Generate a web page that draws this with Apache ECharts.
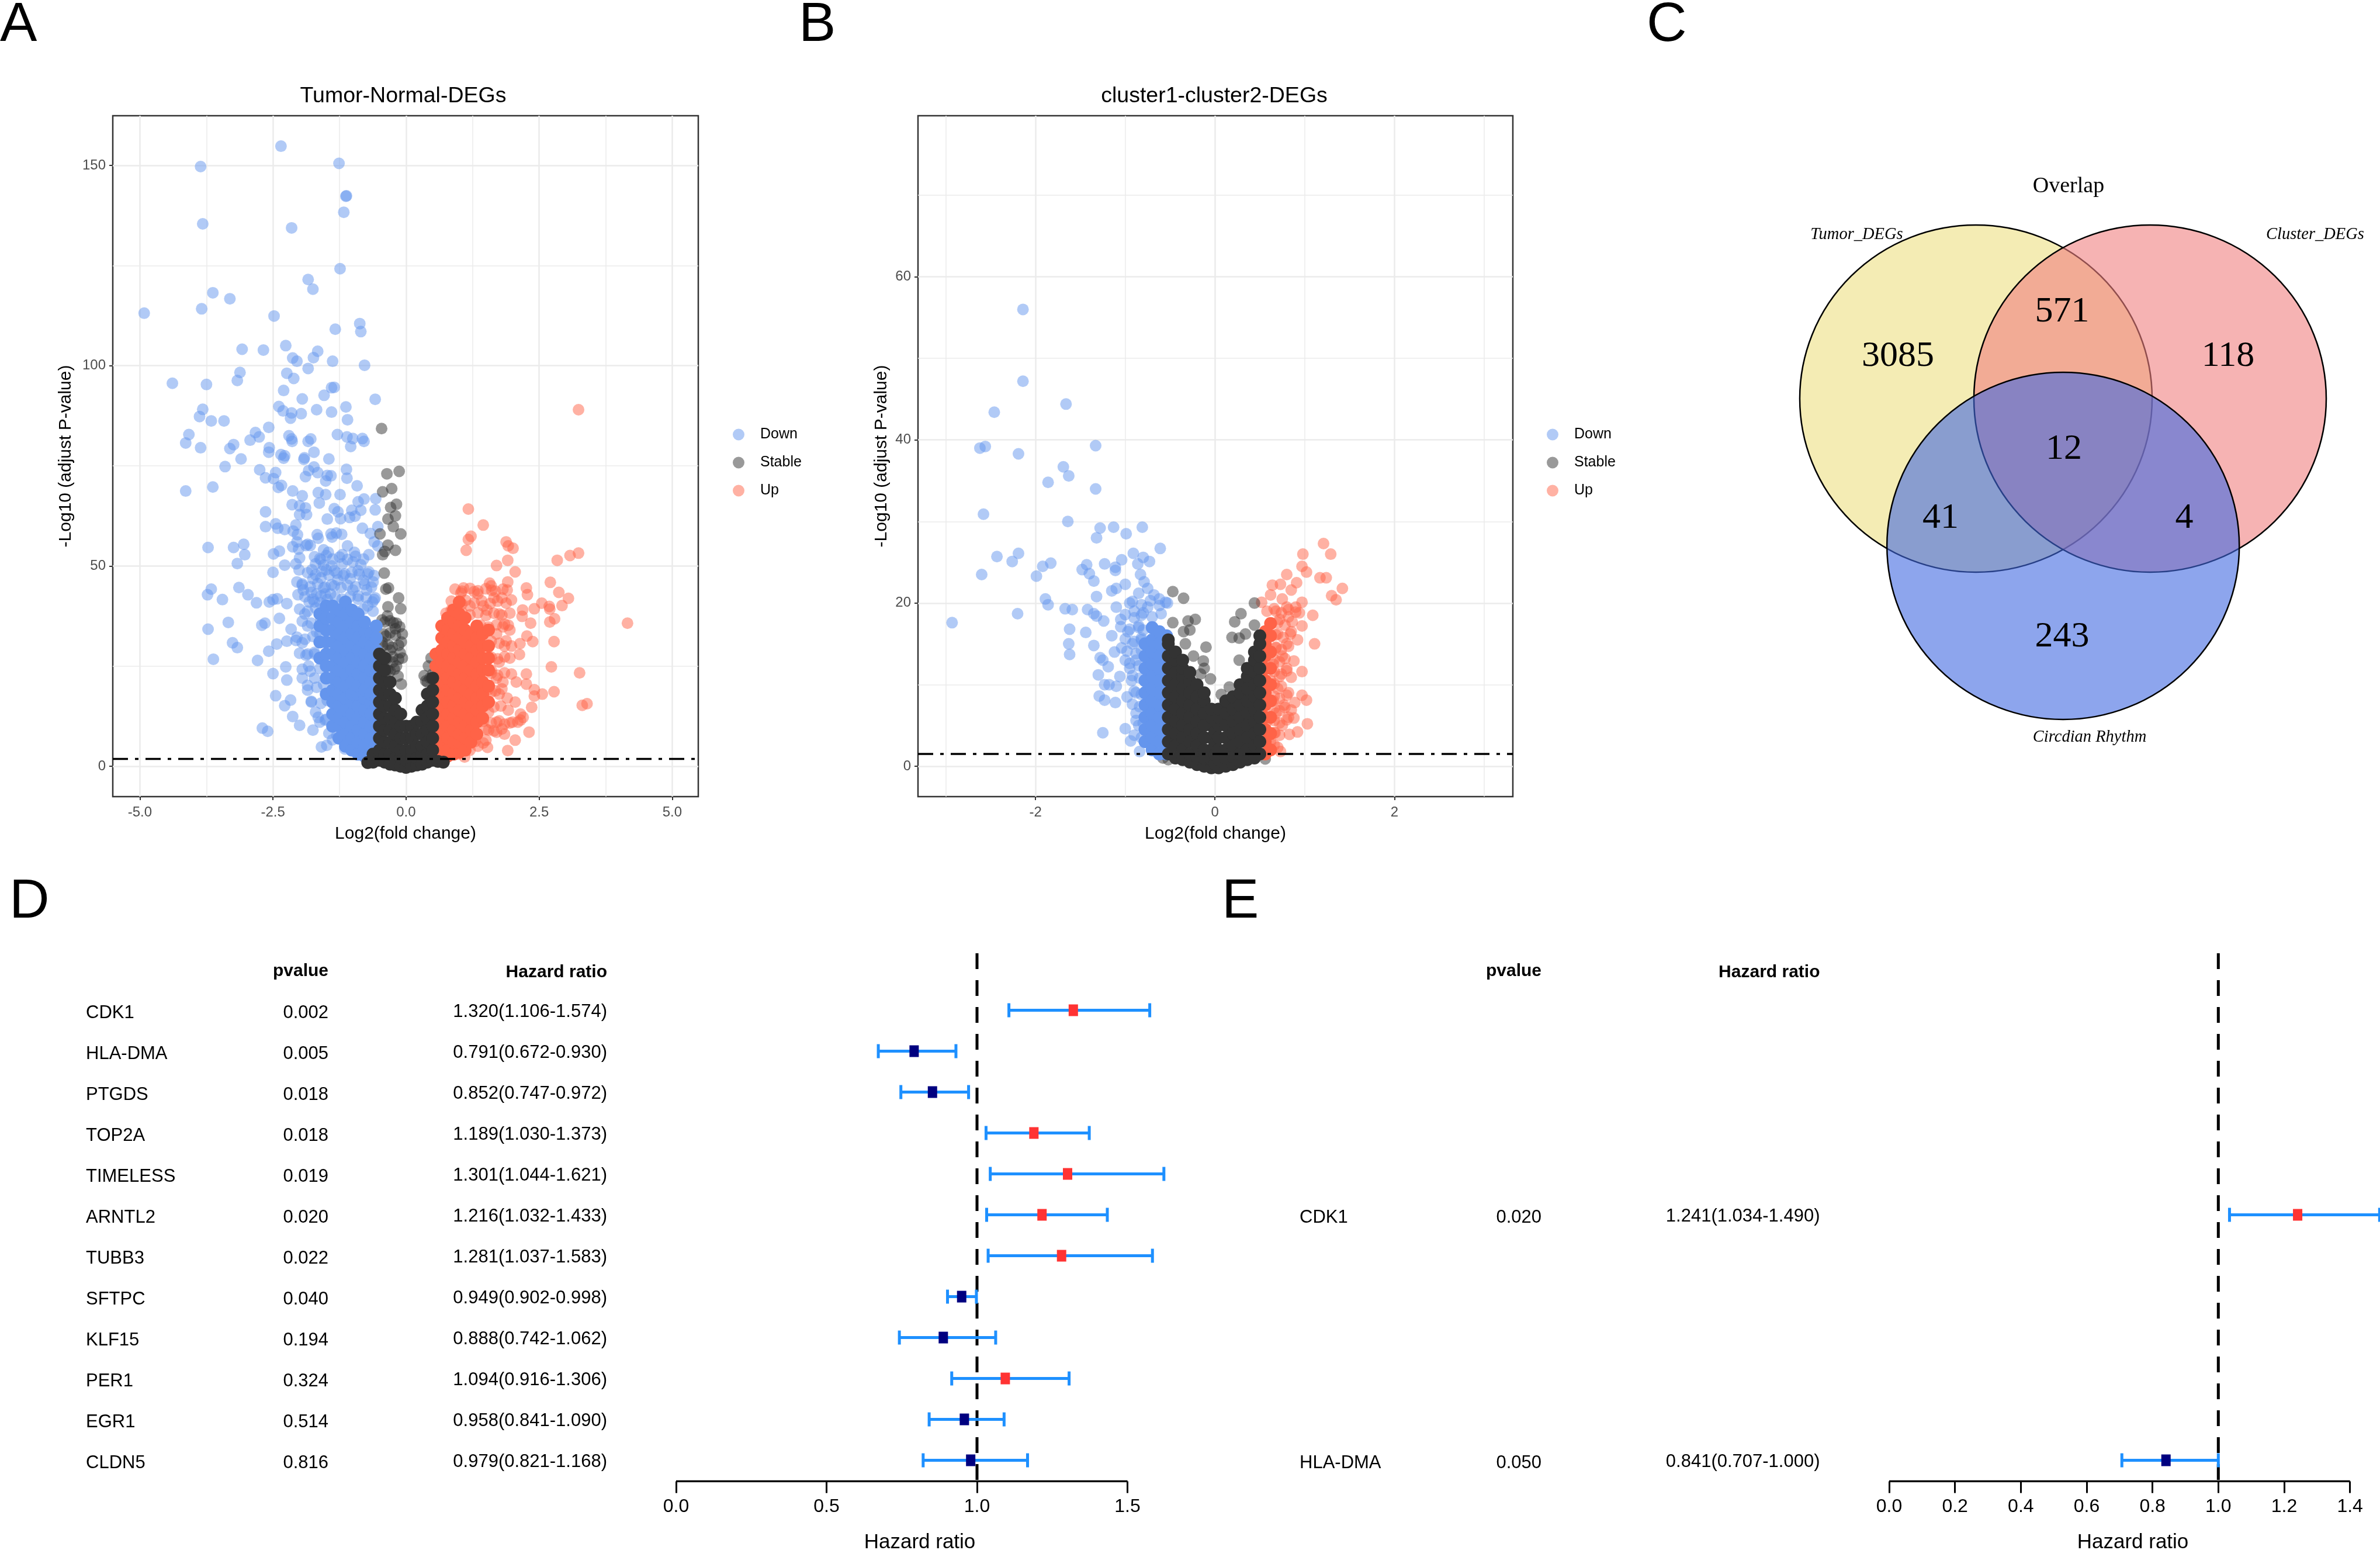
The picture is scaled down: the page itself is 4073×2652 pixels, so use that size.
<!DOCTYPE html>
<html><head><meta charset="utf-8"><style>html,body{margin:0;padding:0;background:#fff}#c{width:4073px;height:2652px}</style>
<script src="https://cdn.jsdelivr.net/npm/echarts@6/dist/echarts.min.js"></script></head><body><div id="c"></div>
<script>
const legendNames=['Down','Stable','Up'];
const xTicksA=[-5,-2.5,0,2.5,5], yTicksA=[0,50,100,150];
const xMinorA=[-3.75,-1.25,1.25,3.75], yMinorA=[25,75,125];
const xTicksB=[-2,0,2], yTicksB=[0,20,40,60];
const xMinorB=[-3,-1,1,3], yMinorB=[10,30,50,70];
const cutoffA=1.8, cutoffB=1.5;

const downA=[[-2.35,154.8],[-3.86,149.7],[-1.26,150.5],[-1.13,142.3],[-1.12,142.4],[-1.17,138.3],[-3.82,135.4],[-2.15,134.4],[-1.24,124.2],[-1.84,121.5],[-1.75,119.1],[-3.63,118.2],[-3.31,116.7],[-3.84,114.2],[-4.92,113.1],[-2.48,112.4],[-.87,110.5],[-1.33,109.1],[-.85,108.5],[-2.26,105],[-3.08,104.1],[-2.68,103.9],[-1.66,103.6],[-1.74,102],[-2.13,101.9],[-2.05,101.1],[-1.38,101.1],[-.78,100.1],[-1.84,99.3],[-3.12,98.3],[-2.24,98.1],[-2.11,96.8],[-3.17,96.3],[-4.39,95.6],[-3.75,95.3],[-1.4,94.5],[-1.35,94.6],[-2.3,93.8],[-1.54,92.6],[-.58,91.6],[-1.95,91.7],[-2.39,89.8],[-2.31,88.7],[-1.13,89.7],[-3.82,89.1],[-1.68,89],[-1.4,88.4],[-2.15,88.2],[-1.97,88],[-3.88,87.3],[-2.17,86.9],[-1.1,86.5],[-3.66,86.2],[-3.42,86.2],[-2.58,84.6],[-2.83,83.3],[-4.08,82.8],[-2.76,82.2],[-2.93,81.4],[-1.29,82.8],[-1.11,82.2],[-1,81.8],[-.82,81.8],[-.79,81.1],[-2.2,82.5],[-2.15,81.7],[-2.14,81.1],[-1.79,81.7],[-1.84,81.1],[-4.14,80.7],[-3.24,80.3],[-3.31,79.3],[-3.86,79.5],[-1.04,79.8],[-2.57,79.5],[-2.58,78.4],[-1.73,78.4],[-2.35,77.8],[-2.28,77.5],[-2.3,76.9],[-1.91,77],[-1.92,76.6],[-1.45,76.7],[-3.1,76.7],[-3.4,74.8],[-2.75,74],[-1.73,74.7],[-1.83,73.8],[-1.12,74.1],[-1.66,73.3],[-2.45,73.3],[-2.64,72],[-2.49,71.8],[-1.89,72.3],[-1.48,72.6],[-1.41,72.5],[-1.51,71.2],[-1.11,71.9],[-2.34,70.1],[-2.4,69.6],[-.92,70],[-3.63,69.7],[-4.14,68.7],[-2.13,68.7],[-1.65,68.3],[-1.51,67.8],[-1.24,67.8],[-1.95,67.5],[-.79,66.7],[-.57,66.8],[-.9,66],[-1.63,65.7],[-2.14,65.3],[-2,65],[-1.89,64.5],[-1.35,64.3],[-1.02,63.9],[-.85,63.9],[-.58,64],[-2.64,63.5],[-2,62.8],[-1.87,62.8],[-1.28,63.5],[-1.48,61.7],[-1.23,61.8],[-1.06,62.1],[-.96,62.4],[-2.64,59.8],[-2.45,60.5],[-2.07,60.2],[-2.28,59.1],[-2.41,59.4],[-2.12,58.7],[-.82,59.4],[-.53,59.8],[-2.04,57.8],[-1.67,57.8],[-1.31,58.2],[-1.41,58],[-1.21,57.9],[-.67,58.1],[-1.65,56.9],[-1.39,57.2],[-1.1,55],[-.6,56],[-.53,55],[-2.05,56],[-1.85,55.4],[-1.8,55.1],[-2.02,54.2],[-1.55,54],[-1.46,53.4],[-1.2,52.8],[-.97,53.4],[-.7,52.8],[-3.72,54.6],[-3.24,54.6],[-3.05,55.4],[-3.03,52.8],[-3.17,50.6],[-2.49,53],[-2.38,53.7],[-2.13,54.8],[-1.88,55.1],[-2,52],[-1.6,51.5],[-1.7,50.5],[-1.55,50.2],[-1.4,50],[-1.2,50.5],[-1,51],[-.85,50.3],[-2.28,50.2],[-2.07,50.5],[-2.01,49],[-1.77,49],[-1.5,49],[-1.35,48.8],[-1.15,48],[-.9,48.8],[-.72,48],[-2.5,48.4],[-2.05,46],[-1.95,45.5],[-1.75,46.8],[-1.6,47],[-1.28,46.5],[-1.05,46.8],[-.8,46.4],[-.62,46],[-3.14,44.6],[-3.66,44.2],[-3.73,42.8],[-3.45,41.6],[-2.97,42.8],[-2.81,40.8],[-2.57,41],[-2.5,41.6],[-2.42,41.8],[-2.24,40.6],[-2.03,42.8],[-1.93,44],[-1.78,43.4],[-1.68,43],[-1.55,44.5],[-1.42,43],[-1,44],[-.74,44],[-1.82,41],[-1.72,41],[-1.62,40.8],[-.63,41],[-3.34,35.9],[-3.72,34.2],[-3.26,30.8],[-3.17,29.6],[-3.62,26.7],[-2.79,26.4],[-2.58,28.7],[-2.43,30.5],[-2.24,31.2],[-2.65,35.7],[-2.71,35.2],[-2.38,36.9],[-2.16,34.2],[-2.07,31.4],[-1.95,30.8],[-1.85,35],[-1.9,38],[-2.5,23.1],[-2.26,24.8],[-2.24,21.5],[-2.45,17.6],[-2.17,16.5],[-2.28,15.1],[-2.13,12.4],[-2,10.2],[-2.7,9.5],[-2.6,8.7],[-1.75,9],[-1.59,4.8],[-1.49,5.2],[-1.38,6.6],[-1.15,4.3],[-1.95,22],[-1.85,19],[-1.78,16],[-1.7,13.5],[-1.83,25],[-1.72,22],[-1.62,11],[-1.52,11.5],[-1.72,28],[-1.85,28],[-1.62,33],[-1.52,43],[-1.35,45],[-.9,42.5],[-.72,40],[-.58,42]];
const downFillA=[[-1.72,52.3],[-1.62,51.8],[-1.5,52.6],[-1.38,51.7],[-1.25,52.2],[-1.1,51.6],[-.95,52.4],[-.8,51.7],[-1.85,48.3],[-1.7,47.8],[-1.58,48.6],[-1.45,47.7],[-1.3,48.2],[-1.18,47.6],[-1.02,48.4],[-.88,47.9],[-.7,48.5],[-.6,47.6],[-1.95,45.2],[-1.8,44.8],[-1.66,45.6],[-1.52,44.7],[-1.4,45.3],[-1.22,44.6],[-1.1,45.2],[-.95,44.8],[-.78,45.4],[-.65,44.7],[-1.9,42.3],[-1.75,41.7],[-1.6,42.5],[-1.48,41.6],[-1.33,42.2],[-1.2,41.7],[-1.05,42.4],[-.9,41.7],[-.75,42.1],[-.6,41.6],[-2,39.2],[-1.85,38.7],[-1.7,39.5],[-1.55,38.6],[-1.4,39.1],[-1.28,38.6],[-1.12,39.4],[-.95,38.7],[-.8,39.2],[-.62,38.7],[-1.95,36.2],[-1.78,35.7],[-1.6,36.4],[-1.45,35.6],[-1.3,36.2],[-1.68,33.5],[-2.05,32.2],[-1.9,31.7],[-1.75,32.4],[-2,28.2],[-1.88,27.7],[-1.72,28.4],[-1.95,24.2],[-1.8,23.7],[-1.62,24.4],[-1.85,20.2],[-1.68,19.7],[-1.55,20.4],[-1.78,16.2],[-1.6,15.7],[-1.48,16.4],[-1.65,12.2],[-1.5,11.7],[-1.45,8.2],[-1.3,7.7]];
const downCoreA=[[-1.62,[27,31,35,38]],[-1.5,[18,22,25,28,31,34,37,40]],[-1.38,[10,13,16,19,22,25,28,31,34,37,40]],[-1.26,[7,10,12,15,18,21,24,27,30,33,36,39]],[-1.14,[5,8,11,14,17,20,23,26,29,32,35,38,41]],[-1.02,[4,7,10,13,16,18,21,24,27,30,33,36,39]],[-.9,[3,6,9,12,15,18,20,23,26,29,32,35,38]],[-.78,[2.5,5,8,11,14,17,19,22,25,28,31,34,36]],[-.66,[2,4,7,10,13,16,18,21,24,27,30,33]],[-.56,[2,4,6,9,12,15,17,20,23,26,29,32,35]]];
const stableA=[[-.46,84.3],[-.36,73],[-.13,73.6],[-.27,69.3],[-.44,68.5],[-.18,65.4],[-.29,64.6],[-.2,62.5],[-.34,61.7],[-.24,59.8],[-.1,58],[-.49,58],[-.34,55.2],[-.2,53.9],[-.4,53.6],[-.44,52.8],[-.41,48.2],[-.38,44.2],[-.33,44.5],[-.14,42],[-.34,39.8],[-.1,39.3],[-.35,37.5],[-.45,36.5],[-.24,35.8],[-.07,33],[-.09,31],[-.38,32.5],[-.11,28.3],[-.07,27],[-.45,31],[-.2,34.3],[-.12,34.8],[-.3,29],[-.25,26],[-.18,25],[-.42,27],[.47,27],[.42,25],[.34,22.6],[-.09,20.5],[.37,21.3],[-.15,22.5],[-.34,24],[-.48,24],[-.4,24.4],[-.3,23.7],[-.22,24.2],[-.46,27.2],[-.36,26.8],[-.25,27.3],[-.14,26.7],[-.44,30],[-.34,30.4],[-.26,29.7],[-.14,30.2],[-.42,33],[-.3,33.3],[-.2,32.7],[-.4,36],[-.3,36.3],[-.18,35.7],[.45,22],[.4,21],[.5,23]];
const stableCoreA=[[-.72,[.9]],[-.62,[1,3]],[-.5,[1.5,4,7,10,13,16,19,22,25,28]],[-.4,[1,3,6,9,12,15,18,21,24,27]],[-.3,[.5,3,6,9,12,15,18,21]],[-.2,[.3,2,5,8,11,14,17]],[-.1,[0,2,4,7,10,13]],[0,[-.3,1.5,4,7,10]],[.1,[0,2,4,7,10]],[.2,[.3,2,5,8,11]],[.3,[.5,3,5,8,11,14]],[.4,[1,3,6,9,12,15,18]],[.5,[1.5,4,7,10,13,16,19,22]],[.6,[1.2]],[.7,[1]]];
const upA=[[3.24,89],[1.17,64.2],[1.45,60.2],[1.22,57.4],[1.17,56.6],[1.13,53.9],[1.88,56],[1.92,55],[2.01,54.4],[3.24,53.2],[3.08,52.6],[2.84,51.4],[1.7,50.1],[1.91,51.4],[2.05,48.5],[1.57,45.7],[1.91,46],[2.71,45.9],[1.08,44.5],[1.03,43.2],[1.28,43.6],[1.61,43.9],[2.26,44.5],[2.28,42.8],[2.87,43.4],[3.05,41.9],[2.93,40.1],[2.55,40.7],[2.7,39.2],[2.69,39.9],[4.16,35.7],[2.79,36.8],[2.7,36],[2.34,35.7],[2.41,39.3],[2.19,39],[2.18,37.4],[2.78,31.1],[2.14,30.6],[2.27,32.5],[2.38,31.1],[2.13,27.9],[2.73,24.8],[3.26,23.3],[2.26,23],[2.26,20.5],[2.41,19.1],[2.56,18],[2.78,18.6],[2.41,17.5],[2.36,14.7],[3.31,15.2],[3.4,15.6],[2.31,8.5],[2.05,6.5],[1.91,3.9],[1.53,4.7],[1.6,45],[1.65,42],[1.8,42],[1.9,44],[1.98,41.5],[1.75,38],[1.85,35.5],[1.95,34],[1.7,33],[1.85,30],[1.98,30],[1.95,27],[1.75,26],[1.6,24],[1.7,22],[1.82,21],[1.98,23],[2.07,21],[1.6,18.5],[1.75,18],[1.9,17],[2.05,16],[1.78,15],[1.92,14],[2.15,13],[1.55,13.5],[1.7,11],[1.85,10.5],[2,11],[2.15,11.5],[2.2,12.2],[1.55,9],[1.7,8.5],[1.85,8],[1.5,6.5],[1.35,5],[1.2,4],[.98,3],[1.1,2.3],[1.52,39],[1.35,43],[1.45,40],[1.2,40],[1.05,40.5],[.95,38],[.85,39]];
const upFillA=[[.92,44.2],[1.05,43.7],[1.2,44.4],[1.35,43.8],[1.5,44.3],[1.68,43.7],[1.82,44.2],[.85,41.2],[1,40.7],[1.12,41.4],[1.28,40.8],[1.42,41.3],[1.58,40.6],[1.72,41.2],[1.88,40.7],[.75,38.2],[.9,37.7],[1.05,38.4],[1.2,37.8],[1.35,38.3],[1.5,37.6],[1.65,38.2],[1.8,37.7],[1.95,38.2],[1.4,35.2],[1.55,34.7],[1.7,35.3],[1.82,34.8],[1.92,35.2],[1.6,31.2],[1.75,30.7],[1.88,31.3],[1.6,27.2],[1.72,26.8],[1.85,27.3],[1.6,23.2],[1.72,22.7],[1.85,23.3],[1.55,19.2],[1.68,18.8],[1.8,19.3],[1.5,15.2],[1.65,14.8],[1.45,11.2],[1.6,10.8],[1.75,11.3],[1.95,10.8],[2.1,11],[1.5,9.2],[1.65,8.8],[1.8,9.3],[1.3,6.2],[1.45,5.8]];
const upCoreA=[[.56,[2,4,7,10,13,16,19,22,25,28]],[.67,[2,5,8,11,14,17,20,23,26,29,32,35]],[.78,[2.5,4,7,10,13,16,19,22,25,28,31,34,37]],[.89,[3,6,9,12,15,18,21,24,27,30,33,36,39]],[1,[3.5,6,8,11,14,17,20,23,26,29,32,35,38,41]],[1.11,[4,7,10,13,16,19,22,25,28,31,34,37]],[1.22,[6,9,12,15,18,21,24,27,30,33]],[1.33,[8,11,14,17,20,23,26,29,32,35]],[1.44,[12,15,18,21,24,27,30,33]],[1.55,[16,20,24,27,30,34]]];

const downB=[[-2.14,56],[-2.14,47.2],[-1.66,44.4],[-2.46,43.4],[-2.62,39],[-2.56,39.2],[-1.33,39.3],[-2.19,38.3],[-1.69,36.7],[-1.63,35.6],[-1.86,34.8],[-1.33,34],[-2.58,30.9],[-1.64,30],[-1.13,29.3],[-1.28,29.2],[-.81,29.3],[-.99,28.5],[-1.32,28],[-.61,26.7],[-.91,26.1],[-2.19,26.1],[-2.43,25.7],[-.8,25.6],[-.73,25.1],[-.86,24.8],[-2.26,25.1],[-1.83,24.9],[-1.92,24.5],[-1.04,25.3],[-1.23,24.8],[-1.11,24.4],[-1.11,24],[-1.43,24.7],[-1.48,24.1],[-1.4,23.6],[-2.6,23.5],[-1.99,23.3],[-.83,23.5],[-1.35,22.7],[-.79,22.6],[-1,22.3],[-1.1,21.8],[-1.15,21.5],[-.75,21.8],[-.85,21.2],[-1.32,20.8],[-1.89,20.5],[-1.86,19.8],[-1.67,19.3],[-1.59,19.2],[-1.42,19.2],[-.95,20],[-.68,21],[-.62,20.5],[-.53,20],[-2.2,18.7],[-2.93,17.6],[-1.35,18.7],[-1.32,18.4],[-1.24,17.8],[-1.62,16.8],[-1.44,16.4],[-1.63,15],[-1.35,14.8],[-1.62,13.7],[-1.28,13.3],[-1.25,13],[-1.19,12.2],[-1.3,11.2],[-1.23,10],[-1.29,8.6],[-1.23,8.1],[-1.11,7.8],[-1.25,4.1],[-1,4.6],[-.9,3.8],[-.94,3.1],[-.84,1.8],[-1.1,19.5],[-1.05,18],[-.97,16.5],[-.9,19],[-.85,17],[-.92,15],[-1.04,14.5],[-1,13],[-.95,12],[-.88,13],[-1.15,16],[-1.12,14],[-1.06,11],[-.93,10.5],[-.98,8.5],[-.88,9],[-.88,6.5],[-.85,5],[-.82,15.5],[-.82,18.5],[-.75,19.5],[-1.18,10],[-1.1,9.8]];
const downFillB=[[-.92,20.2],[-.82,19.8],[-.72,20.3],[-.62,19.7],[-.55,20.1],[-1,18.6],[-.9,18.2],[-.8,18.8],[-.7,18.3],[-.6,18.7],[-1.05,17.1],[-.95,16.8],[-.85,17.2],[-.8,16.7],[-1,15.6],[-.9,15.3],[-.82,15.7],[-.98,14.1],[-.88,13.8],[-.82,14.2],[-.95,12.6],[-.85,12.3],[-.92,11.1],[-.84,10.8],[-.9,9.2],[-.82,8.8],[-.92,7.6],[-.84,7.3],[-.88,5.6],[-.8,5.3],[-.82,3.5]];
const downCoreB=[[-.78,[3,4.5,6,7.5,9,10.5,12,13.5,15]],[-.7,[2,3.5,5,6.5,8,9.5,11,12.5,14,15.5,17]],[-.62,[1.5,3,4.5,6,7.5,9,10.5,12,13.5,15,16.5]],[-.54,[1.5,2.5,4,5.5,7,8.5,10,11.5,13,14.5,16]]];
const stableB=[[-.47,21.4],[-.35,20.6],[-.22,18],[-.3,17.8],[-.47,17.6],[-.28,16.7],[-.35,16.5],[-.1,14.6],[.44,20],[.29,18.7],[.22,17.7],[.19,15.8],[.27,15.7],[.34,16.2],[.44,17.3],[-.33,15],[-.24,13.5],[-.13,12.9],[-.12,12],[-.16,11.3],[-.05,10.7],[.07,8.8],[.27,13],[.16,9.7],[-.58,1],[-.52,.8],[.56,.9]];
const stableCoreB=[[-.52,[1.5,3,4.5,6,7.5,9,10.5,12,13.5,15,15.5]],[-.44,[1,2.5,4,5.5,7,8.5,10,11.5,13,14]],[-.36,[.8,2,3.5,5,6.5,8,9.5,11,12,13]],[-.28,[.5,1.5,3,4.5,6,7.5,9,10.5,11.5]],[-.2,[.2,1.2,2.5,4,5.5,7,8.5,10]],[-.12,[0,1,2,3.5,5,6.5,8,9]],[-.04,[-.2,.8,2,3.5,5,6,7]],[0,[.3,1.4,2.7,4.2]],[.04,[-.2,.8,2,3.5,5,6,7]],[.12,[0,1,2,3.5,5,6.5,8]],[.2,[.2,1.2,2.5,4,5.5,7,8.5]],[.28,[.5,1.5,3,4.5,6,7.5,9,10]],[.36,[.8,2,3.5,5,6.5,8,9.5,11,12]],[.44,[1,2.5,4,5.5,7,8.5,10,11.5,13,14]],[.5,[1.5,3,4.5,6,7.5,9,10.5,12,13.5,15,16]]];
const upB=[[1.21,27.3],[.98,26],[1.29,26],[.97,24.5],[1.02,23.8],[.8,23.5],[1.17,23.1],[1.24,23.1],[1.42,21.8],[.64,22.2],[.73,22.3],[.91,22.5],[.85,21.6],[1.3,20.9],[1.35,20.4],[.52,20.1],[.97,20.1],[.94,18.8],[1.09,18.5],[1.11,15],[.97,17.2],[.85,16.5],[.7,16.2],[.88,12.9],[.97,11.6],[.85,10.9],[.7,9.5],[.97,8.7],[1.02,8.1],[.89,7.8],[1.03,5.2],[.88,5.9],[.92,4.2],[.83,3.9],[.73,1.8],[.67,4.1],[.58,5.5],[.62,21],[.75,20.5],[.8,19.5],[.68,19],[.9,19.5],[.72,18],[.82,18.3],[.62,17.5],[.92,15.5],[.8,15],[.68,14.5],[.75,13.5],[.65,12.5],[.8,12],[.72,11],[.62,10.5],[.82,9],[.65,8],[.77,7.5],[.68,6.5],[.82,6],[.75,5],[.62,3]];
const upFillB=[[.58,19],[.66,19.3],[.74,18.8],[.82,19.2],[.9,18.9],[.7,17.6],[.78,17.3],[.86,17.7],[.68,16.1],[.76,15.8],[.84,16.2],[.68,14.6],[.74,14.3],[.82,14.7],[.66,13.1],[.72,12.8],[.78,13.2],[.66,11.6],[.74,11.3],[.8,11.7],[.66,10.1],[.74,9.8],[.66,8.6],[.72,8.3],[.8,8.7],[.66,7.1],[.72,6.8],[.78,7.2],[.85,6.9],[.66,5.6],[.72,5.3],[.8,5.7],[.66,4.1],[.72,3.8],[.66,2.6],[.7,2.3]];
const upCoreB=[[.56,[1.5,3,4.5,6,7.5,9,10.5,12,13.5,15,16.5]],[.62,[2,4,6,8,10,12,14,16,17.5]]];

const geneD=['CDK1','HLA-DMA','PTGDS','TOP2A','TIMELESS','ARNTL2','TUBB3','SFTPC','KLF15','PER1','EGR1','CLDN5'];
const pD=['0.002','0.005','0.018','0.018','0.019','0.020','0.022','0.040','0.194','0.324','0.514','0.816'];
const hrD=[1.320,0.791,0.852,1.189,1.301,1.216,1.281,0.949,0.888,1.094,0.958,0.979];
const loD=[1.106,0.672,0.747,1.030,1.044,1.032,1.037,0.902,0.742,0.916,0.841,0.821];
const hiD=[1.574,0.930,0.972,1.373,1.621,1.433,1.583,0.998,1.062,1.306,1.090,1.168];
const geneE=['CDK1','HLA-DMA'], rowE=[5,11], pE=['0.020','0.050'];
const hrE=[1.241,0.841], loE=[1.034,0.707], hiE=[1.490,1.000];
const ticksD=[0,0.5,1,1.5], ticksE=[0,0.2,0.4,0.6,0.8,1,1.2,1.4];

const vennNames=['Tumor_DEGs','Cluster_DEGs','Circdian Rhythm'];
const vennCounts={y:3085,yp:571,p:118,ypb:12,yb:41,pb:4,b:243};

const F='"Liberation Sans",Arial,sans-serif', S='"Liberation Serif","Times New Roman",serif';
const flat=c=>c.flatMap(([x,ys])=>ys.map(y=>[x,y]));
const hr3=v=>v.toFixed(3);
const colors={Down:'#6495ED',Stable:'#333333',Up:'#FF6347'};

const grids=[],xAxes=[],yAxes=[],series=[];
function volcano(box,xr,yr,xT,yT,xM,yM,fmt,cut,sets,nameGapY){
  const i=grids.length;
  grids.push({left:box[0],top:box[1],width:box[2]-box[0],height:box[3]-box[1],show:true,borderColor:'#333',borderWidth:2.5,backgroundColor:'#fff'});
  xAxes.push({gridIndex:i,type:'value',min:xr[0],max:xr[1],name:'Log2(fold change)',nameLocation:'middle',nameGap:49,nameTextStyle:{fontFamily:F,fontSize:30,color:'#000'},
    splitLine:{show:false},axisLine:{show:false,onZero:false},axisTick:{show:true,length:6,customValues:xT,lineStyle:{color:'#333',width:2}},
    axisLabel:{customValues:xT,fontFamily:F,fontSize:24,color:'#4D4D4D',margin:15,formatter:fmt}});
  yAxes.push({gridIndex:i,type:'value',min:yr[0],max:yr[1],name:'-Log10 (adjust P-value)',nameLocation:'middle',nameGap:nameGapY,nameTextStyle:{fontFamily:F,fontSize:30,color:'#000'},
    splitLine:{show:false},axisLine:{show:false,onZero:false},axisTick:{show:true,length:6,customValues:yT,lineStyle:{color:'#333',width:2}},
    axisLabel:{customValues:yT,fontFamily:F,fontSize:24,color:'#4D4D4D',margin:12,padding:[5,0,0,0]}});
  const base={xAxisIndex:i,yAxisIndex:i};
  const gl=(vals,key,w)=>vals.map(v=>({[key]:v,lineStyle:{color:'#EBEBEB',width:w,type:'solid'}}));
  series.push({...base,type:'scatter',name:'gridlines',data:[],silent:true,z:1,
    markLine:{silent:true,z:1,symbol:'none',animation:false,label:{show:false},
      data:[...gl(xT,'xAxis',2.5),...gl(yT,'yAxis',2.5),...gl(xM,'xAxis',1.5),...gl(yM,'yAxis',1.5)]}});
  const sc=(name,data,op,size)=>({...base,type:'scatter',name,data,symbol:'circle',symbolSize:size,z:3,silent:true,itemStyle:{color:colors[name],opacity:op}});
  series.push(sc('Down',sets.down,.5,20),sc('Up',sets.up,.5,20),sc('Stable',sets.stable,.5,20),
    sc('Down',flat(sets.downCore),1,22),sc('Up',flat(sets.upCore),1,22),sc('Stable',flat(sets.stableCore),1,22));
  series.push({...base,type:'line',name:'cutoff',data:[[xr[0],cut],[xr[1],cut]],symbol:'none',silent:true,z:5,lineStyle:{color:'#000',width:3.5,type:[26,12,6,12]}});
}
volcano([193,198,1195,1363],[-5.51,5.49],[-7.6,162.4],xTicksA,yTicksA,xMinorA,yMinorA,v=>v.toFixed(1),cutoffA,{down:[...downA,...downFillA],downCore:downCoreA,stable:stableA,stableCore:stableCoreA,up:[...upA,...upFillA],upCore:upCoreA},65);
volcano([1571,198,2589,1363],[-3.31,3.32],[-3.73,79.75],xTicksB,yTicksB,xMinorB,yMinorB,v=>String(v),cutoffB,{down:[...downB,...downFillB],downCore:downCoreB,stable:stableB,stableCore:stableCoreB,up:[...upB,...upFillB],upCore:upCoreB},47);

function forest(left,width,xmax,ticks,rows,hr,lo,hi,axisMax){
  const i=grids.length, yMin=-1.393, yMax=11.514;
  grids.push({left,top:1631,width,height:903.5});
  xAxes.push({gridIndex:i,type:'value',min:0,max:xmax,splitLine:{show:false},axisLine:{show:false,onZero:false},
    axisTick:{show:true,length:20,customValues:ticks,lineStyle:{color:'#000',width:3}},
    axisLabel:{customValues:ticks,fontFamily:F,fontSize:32,color:'#000',margin:28,formatter:v=>v.toFixed(1)}});
  yAxes.push({gridIndex:i,type:'value',min:yMin,max:yMax,inverse:true,show:false,splitLine:{show:false}});
  const base={xAxisIndex:i,yAxisIndex:i};
  series.push({...base,type:'line',name:'axis',data:[[0,yMax],[axisMax,yMax]],symbol:'none',silent:true,z:4,lineStyle:{color:'#000',width:3.5}});
  series.push({...base,type:'line',name:'HR = 1',data:[[1,yMin],[1,yMax]],symbol:'none',silent:true,z:3,lineStyle:{color:'#000',width:5,type:[27,19]}});
  series.push({...base,type:'custom',name:'CI',silent:true,z:5,clip:false,data:rows.map((r,k)=>[lo[k],hi[k],r]),encode:{x:[0,1],y:2},
    renderItem:(p,api)=>{const a=api.coord([api.value(0),api.value(2)]),b=api.coord([api.value(1),api.value(2)]);const st={stroke:'#1E90FF',lineWidth:5};
      return {type:'group',children:[
        {type:'line',shape:{x1:a[0],y1:a[1],x2:b[0],y2:b[1]},style:st},
        {type:'line',shape:{x1:a[0],y1:a[1]-12,x2:a[0],y2:a[1]+12},style:st},
        {type:'line',shape:{x1:b[0],y1:b[1]-12,x2:b[0],y2:b[1]+12},style:st}]};}});
  series.push({...base,type:'scatter',name:'HR',silent:true,z:6,clip:false,symbol:'rect',symbolSize:[16,20],
    data:rows.map((r,k)=>({value:[hr[k],r],itemStyle:{color:hr[k]>1?'#FF3333':'#000080',opacity:1}}))});
}
forest(1157,927,1.8,ticksD,geneD.map((_,k)=>k),hrD,loD,hiD,1.5);
forest(3233,840,1.4912,ticksE,rowE,hrE,loE,hiE,1.4);

const vi=grids.length;
grids.push({left:3000,top:300,width:1073,height:1000});
xAxes.push({gridIndex:vi,type:'value',min:0,max:1073,show:false,splitLine:{show:false}});
yAxes.push({gridIndex:vi,type:'value',min:0,max:1000,inverse:true,show:false,splitLine:{show:false}});
const vennCentres=[[381.5,382],[679.5,382],[530.7,634]];
const vennFill=['rgba(238,226,140,0.65)','rgba(240,128,128,0.6)','rgba(65,105,225,0.6)'];
vennNames.forEach((n,k)=>series.push({xAxisIndex:vi,yAxisIndex:vi,type:'scatter',name:n,silent:true,symbol:'circle',symbolSize:[603,594],z:2+k,clip:false,
  data:[vennCentres[k]],itemStyle:{color:vennFill[k],borderColor:'#000',borderWidth:2.5,opacity:1}}));

const T=(x,y,text,font,o={})=>({type:'text',x,y,z:50,silent:true,style:{text,font,fill:o.fill||'#000',align:o.align||'center',verticalAlign:'middle',textAlign:o.align||'center',textVerticalAlign:'middle'}});
const g=[];
[['A',0,44],['B',1367,44],['C',2818,44],['D',16,1544],['E',2091,1544]].forEach(([t,x,y])=>g.push(T(x,y,t,`95px ${F}`,{align:'left'})));
g.push(T(690,164.5,'Tumor-Normal-DEGs',`37.5px ${F}`),T(2078,164.5,'cluster1-cluster2-DEGs',`37.5px ${F}`));
g.push(T(3540,319.5,'Overlap',`38px ${S}`));
const it=`italic 28.5px ${S}`;
g.push(T(3177.5,401.5,vennNames[0],it),T(3962,401.5,vennNames[1],it),T(3576,1261.5,vennNames[2],it));
const nf=`62px ${S}`, vc=vennCounts;
g.push(T(3248,609.5,String(vc.y),nf),T(3529,533.5,String(vc.yp),nf),T(3813,609.5,String(vc.p),nf),T(3532,768.5,String(vc.ypb),nf),T(3321,886.5,String(vc.yb),nf),T(3738,886.5,String(vc.pb),nf),T(3529,1089.5,String(vc.b),nf));
const tf=`31px ${F}`, hb=`bold 30px ${F}`;
const rowY=r=>1728.5+70*r;
function table(xGene,xP,xHr,genes,rows,ps,hr,lo,hi,xTitle){
  g.push(T(xP,1662,'pvalue',hb,{align:'right'}),T(xHr,1664,'Hazard ratio',hb,{align:'right'}));
  genes.forEach((n,k)=>{const y=rowY(rows[k]);
    g.push(T(xGene,y+4.5,n,tf,{align:'left'}),T(xP,y+4.5,ps[k],tf,{align:'right'}),
      T(xHr,y+3,`${hr3(hr[k])}(${hr3(lo[k])}-${hr3(hi[k])})`,tf,{align:'right'}));});
  g.push(T(xTitle,2639,'Hazard ratio',`35px ${F}`));
}
table(147,562,1039,geneD,geneD.map((_,k)=>k),pD,hrD,loD,hiD,1574);
table(2224,2638,3114.5,geneE,rowE,pE,hrE,loE,hiE,3650);

const legendBase={orient:'vertical',data:legendNames,itemWidth:20,itemHeight:20,itemGap:23,icon:'circle',selectedMode:false,textStyle:{fontFamily:F,fontSize:25,color:'#000',padding:[0,0,0,22]},padding:0};
const chart=echarts.init(document.getElementById('c'));
chart.setOption({animation:false,backgroundColor:'#fff',grid:grids,xAxis:xAxes,yAxis:yAxes,series,
  legend:[{...legendBase,left:1254,top:731},{...legendBase,left:2647,top:731}],graphic:{elements:g}});
</script></body></html>
